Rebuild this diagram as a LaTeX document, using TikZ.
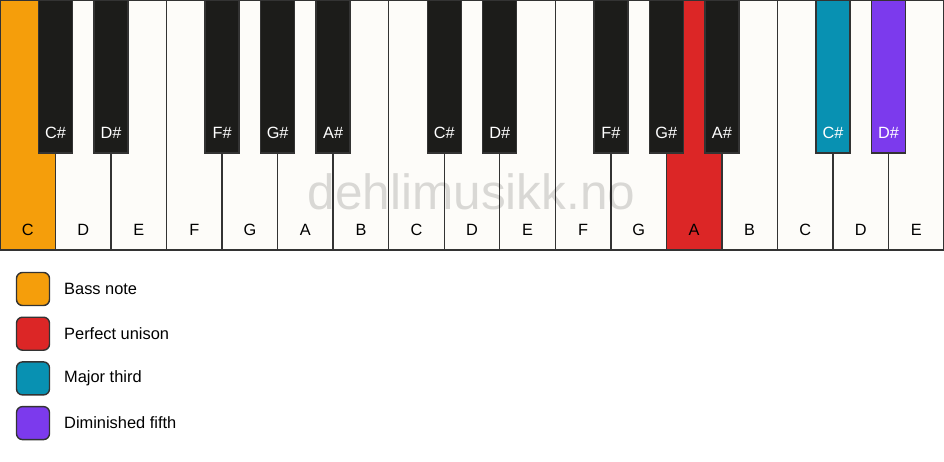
\documentclass[tikz,border=0pt]{standalone}
\usepackage{fontspec}
\setmainfont{Liberation Sans}
\usetikzlibrary{calc}
\definecolor{bass}{HTML}{F59E0B}
\definecolor{unison}{HTML}{DC2626}
\definecolor{third}{HTML}{0891B2}
\definecolor{fifth}{HTML}{7C3AED}
\definecolor{ivory}{HTML}{FDFCF9}
\definecolor{ebony}{HTML}{1C1C1A}
\definecolor{edge}{HTML}{333333}
\begin{document}
\begin{tikzpicture}[x=1pt,y=-1pt,
  whitekey/.style={draw=edge, line width=1.4pt, minimum width=55.53pt, minimum height=250pt, inner sep=0pt, outer sep=0pt, anchor=north west},
  blackkey/.style={draw=edge, line width=1.4pt, minimum width=34pt, minimum height=153pt, inner sep=0pt, outer sep=0pt, anchor=north},
  wlabel/.style={font=\fontsize{16.3}{19}\selectfont, text=black, inner sep=0pt},
  blabel/.style={font=\fontsize{16.3}{19}\selectfont, text=white, inner sep=0pt},
  watermark/.style={font=\fontsize{49.5}{50}\selectfont, text=black, text opacity=0.14, inner sep=0pt},
  legbox/.style={draw=edge, line width=1.4pt, rounded corners=6pt, minimum width=33pt, minimum height=33pt, inner sep=0pt},
  legtext/.style={font=\fontsize{16.4}{19}\selectfont, text=black, inner sep=0pt, anchor=west}]
\useasboundingbox (0,0) rectangle (944,461);
\fill[white] (0,0) rectangle (944,461);
% white keys
\foreach \n/\c [count=\i from 0] in {C/bass,D/ivory,E/ivory,F/ivory,G/ivory,A/ivory,B/ivory,C/ivory,D/ivory,E/ivory,F/ivory,G/ivory,A/unison,B/ivory,C/ivory,D/ivory,E/ivory}{
  \pgfmathsetmacro\xl{\i*944/17}
  \node[whitekey, fill=\c] (w\i) at (\xl,0) {};
  \node[wlabel] (wl\i) at ([yshift=20pt]w\i.south) {\n};
}
% watermark
\node[watermark] (wm) at (471.5,192) {dehlimusikk.no};
% black keys
\foreach \b/\n/\c [count=\j] in {1/C\#/ebony,2/D\#/ebony,4/F\#/ebony,5/G\#/ebony,6/A\#/ebony,8/C\#/ebony,9/D\#/ebony,11/F\#/ebony,12/G\#/ebony,13/A\#/ebony,15/C\#/third,16/D\#/fifth}{
  \pgfmathsetmacro\xb{\b*944/17}
  \node[blackkey, fill=\c] (k\j) at (\xb,0) {};
  \node[blabel] (kl\j) at ([yshift=20pt]k\j.south) {\n};
}
% legend
\foreach \c/\t [count=\k from 0] in {bass/Bass note,unison/Perfect unison,third/Major third,fifth/Diminished fifth}{
  \pgfmathsetmacro\yy{289+\k*44.7}
  \node[legbox, fill=\c] (lb\k) at (33,\yy) {};
  \node[legtext] (lt\k) at (64,\yy) {\t};
}
\end{tikzpicture}
\end{document}
